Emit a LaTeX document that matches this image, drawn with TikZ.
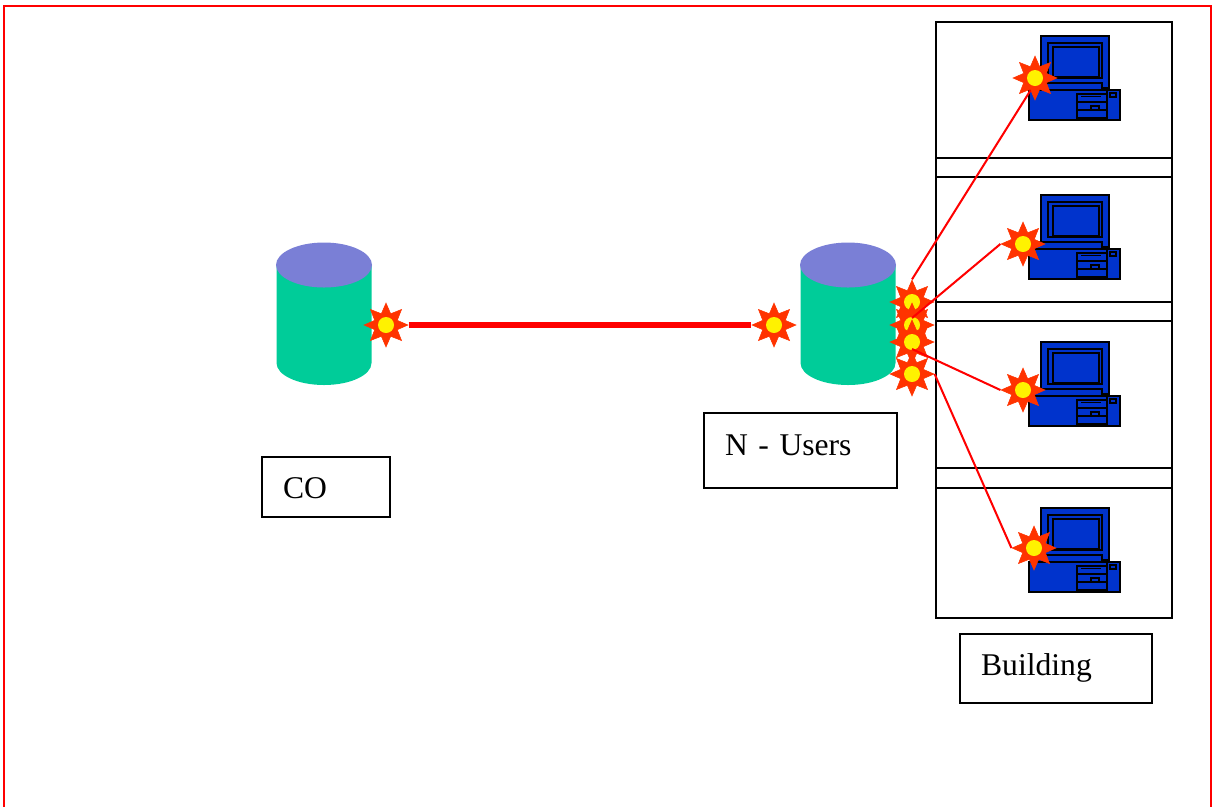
\documentclass[tikz,border=0pt]{standalone}
\usepackage{fontspec}
\setmainfont{Liberation Serif}
\usetikzlibrary{shapes.geometric}

\definecolor{drumgreen}{HTML}{00CC99}
\definecolor{drumtop}{HTML}{7A7FD6}
\definecolor{burstred}{HTML}{FF3300}
\definecolor{pcblue}{HTML}{0033CC}

\tikzset{
	outline/.style={draw=black,line width=1.15pt,outer sep=0pt},
	room/.style={outline,anchor=north west,minimum width=134.3pt,inner sep=0pt},
	labelbox/.style={outline,anchor=north west,inner xsep=12pt,inner ysep=0pt,font=\fontsize{18}{20}\selectfont,text height=14pt},
	burst/.style={star,star points=8,star point ratio=1.8,minimum size=25pt,inner sep=0pt,fill=burstred,draw=burstred,line width=.3pt,
		path picture={\fill[yellow] (path picture bounding box.center) circle (8);}},
	link/.style={draw=red,line width=1.15pt},
	trunk/.style={draw=red,line width=3.4pt},
	drum/.pic={
		\fill[drumgreen] (-47.5,-49) -- (-47.5,49) arc[start angle=180,end angle=360,x radius=47.5,y radius=-22] -- (47.5,-49) -- cycle;
		\fill[drumtop] (0,-49) ellipse[x radius=48,y radius=22.5];
	},
	pc/.pic={
		\draw[fill=pcblue,line width=1.1pt] (12,0) rectangle (80,52);
		\draw[line width=1.3pt] (19,7) rectangle (73,42);
		\draw[line width=.9pt] (24,11) rectangle (70,41);
		\draw[fill=pcblue,line width=1pt] (4,47) rectangle (73,54);
		\draw[fill=pcblue,line width=1.1pt] (0,54) rectangle (91,84);
		\draw[line width=.7pt] (48,58) rectangle (78,82);
		\draw[line width=.7pt] (48,66) -- (78,66) (48,74) -- (78,74) (78,54) -- (78,84);
		\draw[line width=.7pt] (52,60.5) -- (72,60.5) (62,70) rectangle (70,74) (81,57) rectangle (87,61);
	}
}

\begin{document}
\begin{tikzpicture}[x=0.02cm,y=-0.02cm]
	\useasboundingbox (0,0) rectangle (1212,806);
	% page frame, runs off the bottom
	\begin{scope}
		\clip (0,0) rectangle (1212,806);
		\draw[link] (4,6) rectangle (1211,830);
	\end{scope}

	\node[room,minimum height=88.2pt] (roomA) at (936,22) {};
	\node[room,minimum height=92.8pt] (roomB) at (936,158) {};
	\node[room,minimum height=105.9pt] (roomC) at (936,302) {};
	\node[room,minimum height=85.4pt] (roomD) at (936,468) {};

	\node[labelbox,text width=48.9pt,minimum height=34.2pt,text depth=1.5pt] (boxCO) at (262,457) {CO};
	\node[labelbox,text width=85.9pt,minimum height=42.7pt,text depth=8.9pt] (boxUsers) at (704,413) {N - Users};
	\node[labelbox,text width=85.3pt,minimum height=39.3pt,text depth=6.6pt] (boxBuilding) at (960,634) {Building};

	\pic at (324,314) {drum};
	\pic at (848,314) {drum};

	\pic at (1029,36) {pc};
	\pic at (1029,195) {pc};
	\pic at (1029,342) {pc};
	\pic at (1029,508) {pc};

	\node[burst] (burstCO) at (386,325) {};
	\node[burst] (burstN) at (774,325) {};
	\node[burst] (burstNa) at (912,302) {};
	\node[burst] (burstNb) at (912,325) {};
	\node[burst] (burstNd) at (912,374) {};
	\node[burst] (burstNc) at (912,342) {};
	\node[burst] (burstPa) at (1035,78) {};
	\node[burst] (burstPb) at (1023,244) {};
	\node[burst] (burstPc) at (1023,390) {};
	\node[burst] (burstPd) at (1034,548) {};

	\coordinate (tapB) at (912,318);
	\coordinate (tapC) at (912,349);

	\draw[trunk] (burstCO) -- (burstN);
	\draw[link] (burstNa.north) -- (burstPa.250);
	\draw[link] (tapB) -- (burstPb.west);
	\draw[link] (tapC) -- (burstPc.west);
	\draw[link] (burstNd.east) -- (burstPd.west);
\end{tikzpicture}
\end{document}
